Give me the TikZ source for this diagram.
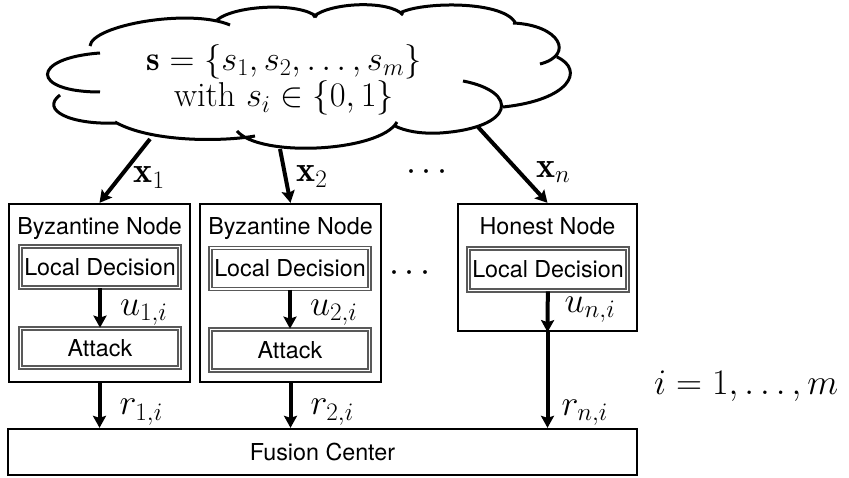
\documentclass[tikz,border=0pt]{standalone}
\usepackage{fix-cm}
\usepackage{fontspec}
\setsansfont{TeX Gyre Heros}
\usetikzlibrary{arrows.meta,positioning}

\newcommand{\boxfont}{\fontsize{23.3}{27}\selectfont\sffamily}
\newcommand{\labfont}{\fontsize{36}{38}\selectfont}

\tikzset{
  box/.style={draw, line width=2.3pt, inner sep=0pt},
  inbox/.style={draw=black!65, double=white, line width=1.7pt, double distance=1.3pt,
    minimum width=159pt, inner sep=0pt, font=\boxfont},
  flow/.style={line width=4pt, -{Stealth[length=12pt,width=13pt,inset=2pt]}},
  lbl/.style={inner sep=0pt, anchor=west, font=\labfont},
}

\begin{document}
\begin{tikzpicture}[x=1pt,y=-1pt]
\useasboundingbox (0,0) rectangle (849,478);

% cloud, lobe by lobe
\draw[line width=3pt]
  (90,46) .. controls (92,25) and (190,8) .. (230,25)
  (217,20) .. controls (235,5) and (300,2) .. (317,17)
  (313,17) .. controls (330,2) and (390,0) .. (403,15)
  (400,13) .. controls (420,2) and (500,0) .. (515,22)
  (513,23) .. controls (560,25) and (575,55) .. (540,64)
  (557,57) .. controls (585,70) and (570,100) .. (503,107)
  (463,81) .. controls (520,92) and (515,128) .. (440,133) .. controls (420,134) and (405,131) .. (395,126)
  (397,122) .. controls (380,152) and (260,158) .. (237,131)
  (115,122) .. controls (150,142) and (220,142) .. (255,136)
  (60,95) .. controls (40,110) and (70,125) .. (117,123)
  (100,53) .. controls (30,58) and (30,92) .. (100,92);
\node[align=center, font=\fontsize{34.5}{36.5}\selectfont] (state) at (284,80)
  {$\mathbf{s}=\{s_1,s_2,\ldots,s_m\}$\\ with $s_i\in\{0,1\}$};
\coordinate (out1) at (150,139);
\coordinate (out2) at (280,149);
\coordinate (outn) at (478,127);

% sensors
\node[box, minimum width=181pt, minimum height=178pt] (byz1) at (99.5,293) {};
\node[box, minimum width=181pt, minimum height=178pt] (byz2) at (290.5,293) {};
\node[box, minimum width=179pt, minimum height=127pt] (hon) at (547.5,267.5) {};
\node[anchor=base, font=\boxfont] (title1) at ([yshift=-32pt]byz1.north) {Byzantine Node};
\node[anchor=base, font=\boxfont] (title2) at ([yshift=-32pt]byz2.north) {Byzantine Node};
\node[anchor=base, font=\boxfont] (title3) at ([yshift=-32pt]hon.north) {Honest Node};

\node[inbox, minimum height=41pt] (dec1) at (100,267) {Local Decision};
\node[inbox, minimum height=39pt] (att1) at (100,348) {Attack};
\node[inbox, minimum height=41pt] (dec2) at (290,268.5) {Local Decision};
\node[inbox, minimum height=41pt] (att2) at (290,350) {Attack};
\node[inbox, minimum height=42pt] (dec3) at (548,269.5) {Local Decision};

% fusion center
\node[box, minimum width=629pt, minimum height=46pt, font=\boxfont] (fc) at (322.5,452) {Fusion Center};

\node[font=\labfont] (dots1) at (427,173) {$\cdots$};
\node[font=\labfont] (dots2) at (410,274) {$\cdots$};
\node[anchor=base west, inner sep=0pt, font=\labfont] (range) at (654,395) {$i=1,\ldots,m$};

% observations
\draw[flow] (out1) -- node[lbl, pos=0.6, xshift=12pt] {$\mathbf{x}_1$} (byz1.north);
\draw[flow] (out2) -- node[lbl, pos=0.51, xshift=9pt] {$\mathbf{x}_2$} (byz2.north);
\draw[flow] (outn) -- node[lbl, pos=0.59, xshift=15pt] {$\mathbf{x}_n$} (hon.north);

% decisions
\draw[flow] (dec1) -- node[lbl, pos=0.62, xshift=18pt] {$u_{1,i}$} (att1);
\draw[flow] (dec2) -- node[lbl, pos=0.59, xshift=18pt] {$u_{2,i}$} (att2);
\draw[flow] (dec3) -- node[lbl, pos=0.45, xshift=15pt] {$u_{n,i}$} (hon.south);

% reports
\draw[flow] (byz1.south) -- node[lbl, pos=0.65, xshift=18pt] {$r_{1,i}$} (byz1.south |- fc.north);
\draw[flow] (byz2.south) -- node[lbl, pos=0.65, xshift=18pt] {$r_{2,i}$} (byz2.south |- fc.north);
\draw[flow] (hon.south) -- node[lbl, pos=0.84, xshift=12pt] {$r_{n,i}$} (hon.south |- fc.north);
\end{tikzpicture}
\end{document}
